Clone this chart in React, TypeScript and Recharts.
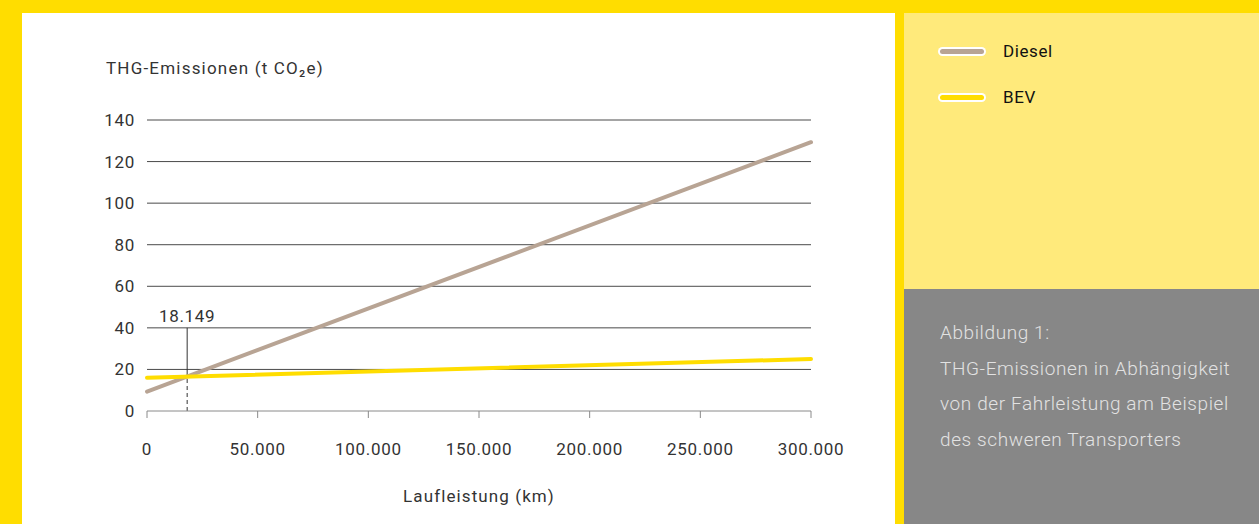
import React from "react";
import {
  LineChart,
  Line,
  XAxis,
  YAxis,
  CartesianGrid,
  ReferenceLine,
  Label,
} from "recharts";

const kmPoints = [0, 300000];
const dieselValues = [9.3, 129.3];
const bevValues = [16, 25];
const xTicks = [0, 50000, 100000, 150000, 200000, 250000, 300000];
const yTicks = [0, 20, 40, 60, 80, 100, 120, 140];
const breakEvenKm = 18149;
const breakEvenTop = 40;

const series = [
  { key: "diesel", name: "Diesel", color: "#B8A494" },
  { key: "bev", name: "BEV", color: "#FFDD00" },
];

const captionLines = [
  "Abbildung 1:",
  "THG-Emissionen in Abhängigkeit",
  "von der Fahrleistung am Beispiel",
  "des schweren Transporters",
];

const data = kmPoints.map((km, i) => ({
  km,
  diesel: dieselValues[i],
  bev: bevValues[i],
}));

// y where diesel crosses the break-even km (linear between the two points)
const breakEvenY =
  dieselValues[0] +
  ((dieselValues[1] - dieselValues[0]) * breakEvenKm) / kmPoints[1];

const fmtKm = (v: number) => String(v).replace(/\B(?=(\d{3})+(?!\d))/g, ".");

const font = "Roboto, 'Noto Sans', sans-serif";
const textStyle = {
  fill: "#333",
  fontSize: 17,
  fontFamily: font,
  letterSpacing: 0.7,
};

export default function App() {
  return (
    <div
      style={{
        position: "absolute",
        left: 0,
        top: 0,
        width: 1259,
        height: 524,
        background: "#FFDD00",
        fontFamily: font,
        overflow: "hidden",
      }}
    >
      <style>{`body{margin:0}`}</style>

      {/* chart panel */}
      <div
        style={{
          position: "absolute",
          left: 22,
          top: 13,
          width: 873,
          height: 511,
          background: "#fff",
        }}
      >
        <div
          style={{
            position: "absolute",
            left: 84,
            top: 44,
            fontSize: 17,
            letterSpacing: 1.2,
            color: "#333",
            lineHeight: "22px",
          }}
        >
          THG-Emissionen (t CO₂e)
        </div>
        <LineChart
          width={873}
          height={511}
          data={data}
          margin={{ top: 107, right: 84, left: 65, bottom: 18 }}
        >
          <CartesianGrid
            vertical={false}
            stroke="#4a4a4a"
            horizontalValues={yTicks.filter((t) => t > 0)}
          />
          <XAxis
            dataKey="km"
            type="number"
            domain={[0, 300000]}
            ticks={xTicks}
            tickFormatter={fmtKm}
            tick={textStyle}
            tickSize={7}
            tickMargin={25}
            stroke="#8a8a8a"
            height={95}
          >
            <Label
              value="Laufleistung (km)"
              position="insideBottom"
              offset={4}
              style={{ ...textStyle, letterSpacing: 1.1 }}
            />
          </XAxis>
          <YAxis
            type="number"
            domain={[0, 140]}
            ticks={yTicks}
            tick={textStyle}
            tickLine={false}
            axisLine={false}
            tickSize={0}
            tickMargin={12}
            width={60}
          />
          <ReferenceLine
            segment={[
              { x: breakEvenKm, y: breakEvenY },
              { x: breakEvenKm, y: breakEvenTop },
            ]}
            stroke="#333"
            strokeWidth={1}
          >
            <Label
              value={fmtKm(breakEvenKm)}
              position="top"
              offset={6}
              style={textStyle}
            />
          </ReferenceLine>
          <ReferenceLine
            segment={[
              { x: breakEvenKm, y: 0 },
              { x: breakEvenKm, y: breakEvenY },
            ]}
            stroke="#333"
            strokeWidth={1}
            strokeDasharray="4 3"
          />
          {series.map((s) => (
            <Line
              key={s.key}
              type="linear"
              dataKey={s.key}
              name={s.name}
              stroke={s.color}
              strokeWidth={4}
              strokeLinecap="round"
              dot={false}
              activeDot={false}
              isAnimationActive={false}
            />
          ))}
        </LineChart>
      </div>

      {/* legend panel */}
      <div
        style={{
          position: "absolute",
          left: 904,
          top: 13,
          width: 355,
          height: 276,
          background: "#FFEA7B",
        }}
      >
        {series.map((s, i) => (
          <div
            key={s.key}
            style={{
              position: "absolute",
              left: 34,
              top: 27 + i * 46,
              height: 22,
              display: "flex",
              alignItems: "center",
            }}
          >
            <div
              style={{
                width: 48,
                height: 9,
                borderRadius: 5,
                background: "#fff",
                display: "flex",
                alignItems: "center",
                padding: "0 2px",
                boxSizing: "border-box",
              }}
            >
              <div
                style={{
                  width: "100%",
                  height: 5,
                  borderRadius: 3,
                  background: s.color,
                }}
              />
            </div>
            <span
              style={{
                marginLeft: 17,
                fontSize: 17,
                letterSpacing: 0.6,
                color: "#111",
                fontWeight: 400,
              }}
            >
              {s.name}
            </span>
          </div>
        ))}
      </div>

      {/* caption panel */}
      <div
        style={{
          position: "absolute",
          left: 904,
          top: 289,
          width: 355,
          height: 235,
          background: "#878787",
        }}
      >
        <div
          style={{
            position: "absolute",
            left: 36,
            top: 26,
            fontSize: 19,
            letterSpacing: 0.6,
            lineHeight: "35.5px",
            color: "#e2e2e2",
            fontWeight: 300,
          }}
        >
          {captionLines.map((l) => (
            <div key={l}>{l}</div>
          ))}
        </div>
      </div>
    </div>
  );
}
